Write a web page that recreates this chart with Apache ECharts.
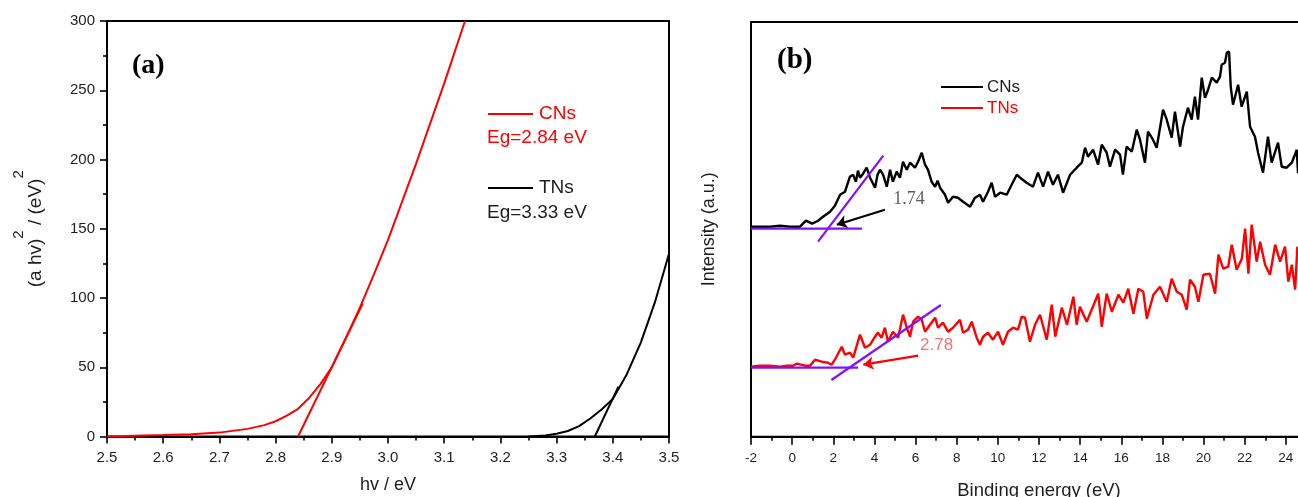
<!DOCTYPE html>
<html>
<head>
<meta charset="utf-8">
<script src="https://cdn.jsdelivr.net/npm/echarts@6/dist/echarts.min.js"></script>
<style>
html, body { margin: 0; padding: 0; background: #fff; }
#chart { width: 1298px; height: 497px; }
</style>
</head>
<body>
<div id="chart"></div>
<script>
// ---------- (a) Tauc plot: photon energy (eV) vs (a hv)^2 ----------
const cnsPhoton = [2.50, 2.55, 2.60, 2.65, 2.70, 2.75, 2.78, 2.80, 2.82, 2.84, 2.86, 2.88, 2.90, 2.925, 2.95, 2.975, 3.00, 3.05, 3.10, 3.137];
const cnsTauc   = [0, 0.5, 1, 1.6, 2.8, 5.5, 8.2, 11, 15, 20, 28, 38, 50, 71, 93, 117, 142, 197, 255, 300];
const tnsPhoton = [3.25, 3.28, 3.30, 3.32, 3.34, 3.36, 3.38, 3.40, 3.425, 3.45, 3.475, 3.50];
const tnsTauc   = [0, 0.8, 2, 4, 7.5, 13, 19.5, 27, 45, 68, 97, 132];
// linear extrapolation of the absorption edges
const cnsEdgeX = [2.84, 2.955];
const cnsEdgeY = [0, 96];
const tnsEdgeX = [3.368, 3.41];
const tnsEdgeY = [0, 36];
const bandGaps = ['2.84', '3.33'];

// ---------- (b) valence-band XPS: binding energy (eV), intensity (a.u.) ----------
const cnsVB = [
  [-2.00,210],[-1.56,210],[-1.08,210],[-0.59,211],[-0.10,210],[0.38,210],[0.67,216],[0.97,213],
  [1.26,216],[1.50,220],[1.84,225],[2.08,231],[2.33,242],[2.57,245],[2.81,260],[2.96,262],
  [3.10,255],[3.20,266],[3.30,259],[3.45,263],[3.62,269],[3.79,259],[4.03,249],[4.15,262],[4.27,267],[4.42,262],[4.60,250],
  [4.76,267],[4.90,255],[5.08,265],[5.24,259],[5.39,275],[5.57,267],[5.73,274],[5.97,269],
  [6.12,275],[6.30,284],[6.46,272],[6.60,267],[6.78,255],[6.95,250],[7.07,256],[7.19,249],[7.27,250],
  [7.43,242],[7.58,234],[7.82,240],[8.06,239],[8.31,235],[8.65,230],[8.89,239],[9.13,242],
  [9.28,235],[9.52,245],[9.70,254],[9.86,240],[10.11,244],[10.43,242],[10.67,252],[10.92,262],
  [11.08,259],[11.40,254],[11.71,250],[11.95,264],[12.20,250],[12.44,265],[12.68,252],[12.92,262],
  [13.17,244],[13.51,262],[13.83,269],[14.08,274],[14.24,289],[14.38,280],[14.63,287],[14.87,272],
  [15.05,292],[15.29,284],[15.45,270],[15.70,287],[15.94,282],[16.08,262],[16.26,290],[16.51,285],
  [16.75,307],[16.91,297],[17.15,274],[17.30,305],[17.54,297],[17.72,289],[18.03,327],[18.21,317],
  [18.45,299],[18.61,325],[18.86,290],[19.00,310],[19.24,329],[19.42,317],[19.58,340],[19.73,317],
  [19.91,359],[20.07,339],[20.22,347],[20.40,359],[20.64,354],[20.80,360],[20.88,372],[21.04,374],
  [21.13,384],[21.24,385],[21.32,350],[21.43,332],[21.68,352],[21.85,330],[22.10,345],[22.26,310],
  [22.50,300],[22.65,284],[22.89,264],[23.13,300],[23.31,274],[23.62,294],[23.80,270],[24.04,269],
  [24.29,274],[24.53,287],[24.59,264],[24.80,266]
];
const tnsVB = [
  [-2.00,70],[-1.56,71],[-1.08,71],[-0.59,70],[-0.25,71],[0.04,71],[0.22,73],[0.63,71],
  [0.87,71],[1.11,77],[1.44,75],[1.74,74],[1.92,72],[2.08,77],[2.41,90],[2.57,82],
  [2.81,84],[2.97,79],[3.30,102],[3.54,89],[3.79,92],[4.03,100],[4.17,104],[4.35,99],
  [4.51,109],[4.66,95],[4.90,105],[5.15,99],[5.39,122],[5.57,109],[5.73,100],[5.88,115],
  [6.12,120],[6.30,117],[6.46,105],[6.70,112],[6.95,119],[7.09,109],[7.33,114],[7.58,105],
  [7.82,109],[8.16,117],[8.31,104],[8.55,107],[8.73,115],[8.97,99],[9.13,92],[9.28,100],
  [9.52,104],[9.76,97],[10.01,105],[10.25,92],[10.49,105],[10.74,109],[10.98,107],[11.16,120],
  [11.32,119],[11.56,95],[11.81,112],[12.05,122],[12.38,97],[12.62,132],[12.79,100],[13.11,129],
  [13.36,112],[13.67,140],[13.83,112],[13.99,130],[14.32,115],[14.56,127],[14.88,143],[15.05,110],
  [15.29,143],[15.54,125],[15.86,142],[16.10,134],[16.34,148],[16.59,123],[16.83,148],[17.07,145],
  [17.24,118],[17.56,142],[17.88,150],[18.21,135],[18.45,158],[18.70,145],[18.94,142],[19.18,127],
  [19.34,157],[19.58,150],[19.75,135],[19.99,162],[20.31,163],[20.56,143],[20.72,182],[20.96,168],
  [21.20,170],[21.37,192],[21.61,167],[21.86,178],[22.02,208],[22.18,163],[22.34,212],[22.58,175],
  [22.75,195],[22.99,172],[23.23,162],[23.48,192],[23.72,175],[23.96,190],[24.12,155],[24.29,172],
  [24.45,147],[24.56,190],[24.80,170]
];
// valence-band maximum from the intersection of baseline and leading-edge fit
const vbEdge = ['1.74', '2.78'];
const cnsBaseline = [[-2, 208], [3.39, 208]];
const cnsLeading  = [[1.26, 195], [4.43, 281]];
const tnsBaseline = [[-2, 69], [3.20, 69]];
const tnsLeading  = [[1.91, 56.7], [7.23, 131.7]];
const cnsArrow = [[4.51, 227], [2.17, 212]];
const tnsArrow = [[6.13, 81], [3.46, 72]];
const cnsLabelAt = [5.68, 237];
const tnsLabelAt = [7.02, 91];

const pairs = (xs, ys) => xs.map((x, i) => [x, ys[i]]);

const SANS = '"Liberation Sans", Arial, sans-serif';
const SERIF = '"Liberation Serif", "Times New Roman", serif';
const INK = '#1e1e1e';
const RED = '#ff0000';
const VIOLET = '#8010ff';

const chart = echarts.init(document.getElementById('chart'), null, { renderer: 'canvas' });

const axisLine = { show: true, onZero: false, lineStyle: { color: '#000', width: 2 } };
const tick = (len) => ({ show: true, length: len, lineStyle: { color: '#000', width: 1.6 } });
const minor = (len) => ({ show: true, splitNumber: 2, length: len, lineStyle: { color: '#000', width: 1.6 } });

const option = {
  animation: false,
  backgroundColor: '#fff',
  grid: [
    { left: 107, top: 21, width: 562, height: 415.5, outerBoundsMode: 'none', containLabel: false, show: true, borderColor: '#000', borderWidth: 2, backgroundColor: 'transparent' },
    { left: 751, top: 22, width: 576, height: 414.7, outerBoundsMode: 'none', containLabel: false, show: true, borderColor: '#000', borderWidth: 2, backgroundColor: 'transparent' }
  ],
  xAxis: [
    {
      gridIndex: 0, type: 'value', min: 2.5, max: 3.5, interval: 0.1,
      axisLine, axisTick: tick(7), minorTick: minor(4), splitLine: { show: false },
      axisLabel: { formatter: v => v.toFixed(1), fontSize: 15, color: INK, fontFamily: SANS, margin: 14 },
      name: 'hv / eV', nameLocation: 'middle', nameGap: 40,
      nameTextStyle: { fontSize: 18, color: INK, fontFamily: SANS }
    },
    {
      gridIndex: 1, type: 'value', min: -2, max: 26, interval: 2,
      axisLine, axisTick: tick(8), minorTick: minor(4), splitLine: { show: false },
      axisLabel: { fontSize: 13.5, color: INK, fontFamily: SANS, margin: 15 },
      name: 'Binding energy (eV)', nameLocation: 'middle', nameGap: 45,
      nameTextStyle: { fontSize: 18.5, color: INK, fontFamily: SANS }
    }
  ],
  yAxis: [
    {
      gridIndex: 0, type: 'value', min: 0, max: 300, interval: 50,
      axisLine, axisTick: tick(7), minorTick: minor(4), splitLine: { show: false },
      axisLabel: { fontSize: 15, color: INK, fontFamily: SANS, margin: 12 },
      name: '{m|(a hv)}{s|2}{m| / (eV)}{s|2}', nameLocation: 'middle', nameGap: 62, nameRotate: 90,
      nameTextStyle: {
        color: INK, fontFamily: SANS, fontSize: 19,
        rich: {
          m: { fontSize: 19, fontFamily: SANS, color: INK, lineHeight: 34, verticalAlign: 'bottom' },
          s: { fontSize: 15, fontFamily: SANS, color: INK, lineHeight: 34, verticalAlign: 'top' }
        }
      }
    },
    {
      gridIndex: 1, type: 'value', min: 0, max: 414.7,
      axisLine, axisTick: { show: false }, axisLabel: { show: false }, splitLine: { show: false },
      name: 'Intensity (a.u.)', nameLocation: 'middle', nameGap: 33, nameRotate: 90,
      nameTextStyle: { fontSize: 18, color: INK, fontFamily: SANS }
    }
  ],
  series: [
    // (a)
    { type: 'line', xAxisIndex: 0, yAxisIndex: 0, data: pairs(cnsPhoton, cnsTauc), showSymbol: false, symbol: 'none', lineStyle: { color: RED, width: 2 } },
    { type: 'line', xAxisIndex: 0, yAxisIndex: 0, data: pairs(cnsEdgeX, cnsEdgeY), showSymbol: false, symbol: 'none', lineStyle: { color: RED, width: 2 } },
    { type: 'line', xAxisIndex: 0, yAxisIndex: 0, data: pairs(tnsPhoton, tnsTauc), showSymbol: false, symbol: 'none', lineStyle: { color: '#000', width: 2 } },
    { type: 'line', xAxisIndex: 0, yAxisIndex: 0, data: pairs(tnsEdgeX, tnsEdgeY), showSymbol: false, symbol: 'none', lineStyle: { color: '#000', width: 2 } },
    // (b)
    { type: 'line', xAxisIndex: 1, yAxisIndex: 1, data: cnsVB, showSymbol: false, symbol: 'none', lineStyle: { color: '#000', width: 2.4 } },
    { type: 'line', xAxisIndex: 1, yAxisIndex: 1, data: tnsVB, showSymbol: false, symbol: 'none', lineStyle: { color: RED, width: 2.4 } },
    { type: 'line', xAxisIndex: 1, yAxisIndex: 1, data: cnsBaseline, z: 5, showSymbol: false, symbol: 'none', lineStyle: { color: VIOLET, width: 2.2 } },
    { type: 'line', xAxisIndex: 1, yAxisIndex: 1, data: cnsLeading, z: 5, showSymbol: false, symbol: 'none', lineStyle: { color: VIOLET, width: 2.2 } },
    { type: 'line', xAxisIndex: 1, yAxisIndex: 1, data: tnsBaseline, z: 5, showSymbol: false, symbol: 'none', lineStyle: { color: VIOLET, width: 2.2 } },
    { type: 'line', xAxisIndex: 1, yAxisIndex: 1, data: tnsLeading, z: 5, showSymbol: false, symbol: 'none', lineStyle: { color: VIOLET, width: 2.2 } },
    {
      type: 'lines', coordinateSystem: 'cartesian2d', xAxisIndex: 1, yAxisIndex: 1, z: 6,
      symbol: ['none', 'arrow'], symbolSize: 10,
      data: [
        { coords: cnsArrow, lineStyle: { color: '#000', width: 2.2, opacity: 1 } },
        { coords: tnsArrow, lineStyle: { color: RED, width: 2.2, opacity: 1 } }
      ]
    },
    {
      type: 'scatter', xAxisIndex: 1, yAxisIndex: 1, symbolSize: 0, z: 6, silent: true,
      data: [
        { value: cnsLabelAt, label: { show: true, position: 'inside', formatter: vbEdge[0], fontFamily: SERIF, fontSize: 18, color: '#333' } },
        { value: tnsLabelAt, label: { show: true, position: 'inside', formatter: vbEdge[1], fontFamily: SANS, fontSize: 17, color: '#ff4d4d' } }
      ]
    }
  ],
  graphic: [
    { type: 'text', x: 132, y: 52, style: { text: '(a)', fontFamily: SERIF, fontWeight: 'bold', fontSize: 28, fill: '#000' } },
    { type: 'text', x: 777, y: 46, style: { text: '(b)', fontFamily: SERIF, fontWeight: 'bold', fontSize: 29, fill: '#000' } },
    // legend (a)
    { type: 'line', shape: { x1: 488, y1: 114, x2: 533, y2: 114 }, style: { stroke: RED, lineWidth: 2 } },
    { type: 'text', x: 539, y: 114, style: { text: 'CNs', fontFamily: SANS, fontSize: 19, fill: RED, verticalAlign: 'middle' } },
    { type: 'text', x: 487, y: 138, style: { text: 'Eg=' + bandGaps[0] + ' eV', fontFamily: SANS, fontSize: 19, fill: RED, verticalAlign: 'middle' } },
    { type: 'line', shape: { x1: 488, y1: 188, x2: 533, y2: 188 }, style: { stroke: '#000', lineWidth: 2 } },
    { type: 'text', x: 539, y: 188, style: { text: 'TNs', fontFamily: SANS, fontSize: 19, fill: INK, verticalAlign: 'middle' } },
    { type: 'text', x: 487, y: 213, style: { text: 'Eg=' + bandGaps[1] + ' eV', fontFamily: SANS, fontSize: 19, fill: INK, verticalAlign: 'middle' } },
    // legend (b)
    { type: 'line', shape: { x1: 941, y1: 87, x2: 983, y2: 87 }, style: { stroke: '#000', lineWidth: 2 } },
    { type: 'text', x: 987, y: 87, style: { text: 'CNs', fontFamily: SANS, fontSize: 17, fill: INK, verticalAlign: 'middle' } },
    { type: 'line', shape: { x1: 941, y1: 108, x2: 983, y2: 108 }, style: { stroke: RED, lineWidth: 2 } },
    { type: 'text', x: 987, y: 108, style: { text: 'TNs', fontFamily: SANS, fontSize: 17, fill: RED, verticalAlign: 'middle' } }
  ]
};

chart.setOption(option);
</script>
</body>
</html>
